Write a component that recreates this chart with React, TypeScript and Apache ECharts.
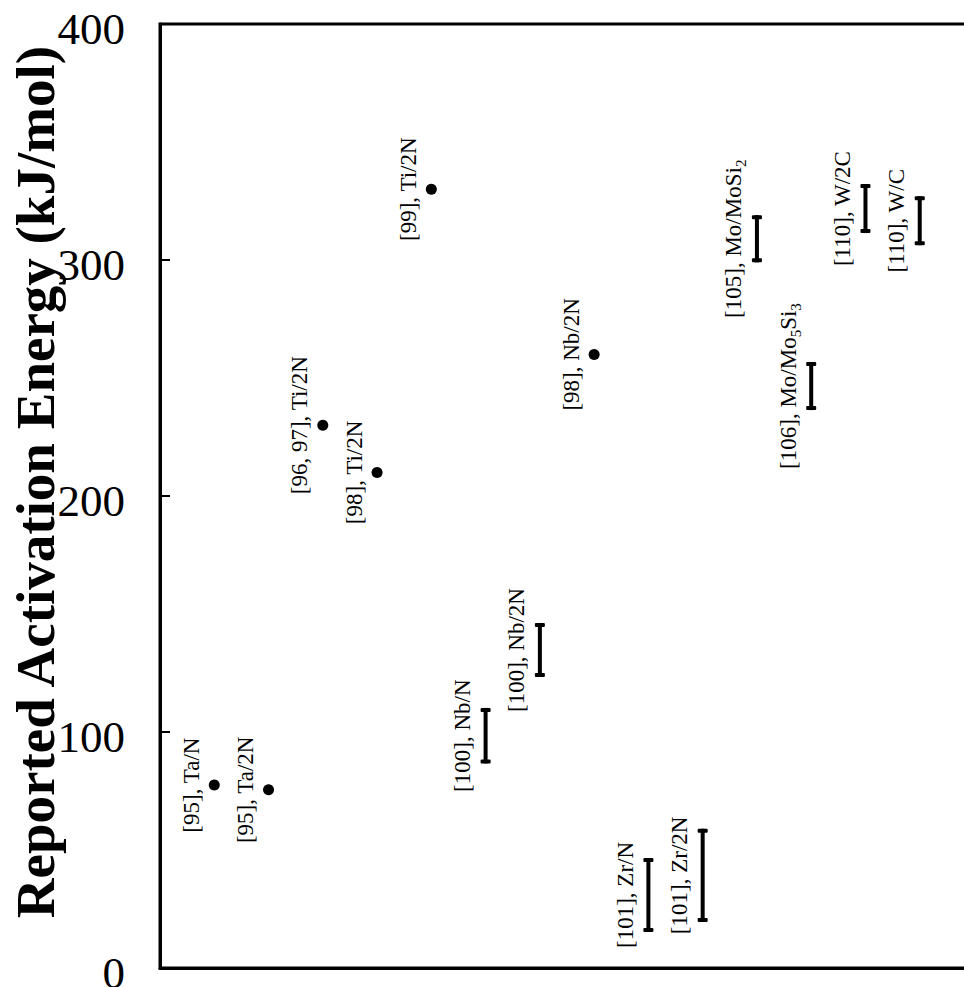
import React, { useEffect, useRef } from "react";
import * as echarts from "echarts";

// Dots (single reported values)
const pointX = [1, 2, 3, 4, 5, 8];
const pointY = [77.5, 75.5, 230, 210, 330, 260];
const pointLabels = [
  "{a|[95], Ta/N}",
  "{a|[95], Ta/2N}",
  "{a|[96, 97], Ti/2N}",
  "{a|[98], Ti/2N}",
  "{a|[99], Ti/2N}",
  "{a|[98], Nb/2N}",
];

// Ranges (reported intervals)
const rangeX = [6, 7, 9, 10, 11, 12, 13, 14];
const rangeLow = [86.7, 123.3, 15.3, 19.5, 299, 236.4, 311.4, 306.3];
const rangeHigh = [110.2, 146.2, 46.6, 59, 319, 256.8, 332.2, 327];
const rangeLabels = [
  "{a|[100], Nb/N}",
  "{a|[100], Nb/2N}",
  "{a|[101], Zr/N}",
  "{a|[101], Zr/2N}",
  "{a|[105], Mo/MoSi}{s|2}",
  "{a|[106], Mo/Mo}{s|5}{a|Si}{s|3}",
  "{a|[110], W/2C}",
  "{a|[110], W/C}",
];

const yTicks = [0, 100, 200, 300, 400];
const yTitle = "Reported Activation Energy (kJ/mol)";

const FONT = "'Liberation Serif', 'Times New Roman', serif";

const richStyles = {
  a: { fontSize: 23, fontFamily: FONT, color: "#000", lineHeight: 30, verticalAlign: "middle" },
  s: { fontSize: 15, fontFamily: FONT, color: "#000", lineHeight: 15, verticalAlign: "bottom" },
};

export default function App() {
  const ref = useRef<HTMLDivElement>(null);

  useEffect(() => {
    if (!ref.current) return;
    const chart = echarts.init(ref.current, null, { renderer: "svg" });

    const labelData = [
      ...pointX.map((x, i) => [x, pointY[i], pointY[i], i, 0]),
      ...rangeX.map((x, i) => [x, rangeLow[i], rangeHigh[i], i, 1]),
    ];

    const option: any = {
      animation: false,
      backgroundColor: "#fff",
      grid: {
        left: 160,
        top: 24,
        bottom: 19,
        right: -10,
        containLabel: false,
        outerBoundsMode: "none",
        show: true,
        borderColor: "#000",
        borderWidth: 3,
        backgroundColor: "transparent",
      },
      xAxis: {
        type: "value",
        min: 0,
        max: 15,
        axisLine: { show: true, lineStyle: { color: "#000", width: 3 } },
        axisTick: { show: false },
        axisLabel: { show: false },
        splitLine: { show: false },
      },
      yAxis: {
        type: "value",
        min: yTicks[0],
        max: yTicks[yTicks.length - 1],
        interval: 100,
        axisLine: { show: true, lineStyle: { color: "#000", width: 3 } },
        axisTick: { show: true, inside: true, length: 10, lineStyle: { color: "#000", width: 2 } },
        axisLabel: {
          margin: 35,
          formatter: (v: number) => `{v|${v}}`,
          rich: {
            v: { color: "#000", fontSize: 45, fontFamily: FONT, padding: [10, 0, 0, 0] },
          },
        },
        splitLine: { show: false },
      },
      graphic: [
        {
          type: "text",
          x: 35,
          y: 482,
          rotation: Math.PI / 2,
          style: {
            text: yTitle,
            fontFamily: FONT,
            fontWeight: "bold",
            fontSize: 55,
            fill: "#000",
            align: "center",
            verticalAlign: "middle",
          },
        },
      ],
      series: [
        {
          type: "scatter",
          data: pointX.map((x, i) => [x, pointY[i]]),
          symbol: "circle",
          symbolSize: 11,
          itemStyle: { color: "#000", opacity: 1 },
          silent: true,
        },
        {
          type: "custom",
          data: rangeX.map((x, i) => [x, rangeLow[i], rangeHigh[i]]),
          renderItem: (params: any, api: any) => {
            const lo = api.coord([api.value(0), api.value(1)]);
            const hi = api.coord([api.value(0), api.value(2)]);
            const cx = lo[0];
            const stemW = 4;
            const capW = 10;
            const capH = 4;
            return {
              type: "group",
              children: [
                {
                  type: "rect",
                  shape: { x: cx - stemW / 2, y: hi[1], width: stemW, height: lo[1] - hi[1] },
                  style: { fill: "#000" },
                },
                {
                  type: "rect",
                  shape: { x: cx - capW / 2, y: hi[1], width: capW, height: capH, r: 1 },
                  style: { fill: "#000" },
                },
                {
                  type: "rect",
                  shape: { x: cx - capW / 2, y: lo[1] - capH, width: capW, height: capH, r: 1 },
                  style: { fill: "#000" },
                },
              ],
            };
          },
          silent: true,
        },
        {
          type: "custom",
          data: labelData,
          renderItem: (params: any, api: any) => {
            const lo = api.coord([api.value(0), api.value(1)]);
            const hi = api.coord([api.value(0), api.value(2)]);
            const idx = api.value(3);
            const kind = api.value(4);
            const text = kind === 0 ? pointLabels[idx] : rangeLabels[idx];
            return {
              type: "text",
              x: lo[0] - 23,
              y: (lo[1] + hi[1]) / 2,
              rotation: Math.PI / 2,
              style: {
                text,
                rich: richStyles,
                align: "center",
                verticalAlign: "middle",
                fill: "#000",
              },
            };
          },
          silent: true,
        },
      ],
    };

    chart.setOption(option);
    return () => chart.dispose();
  }, []);

  return (
    <div
      ref={ref}
      style={{ position: "fixed", left: 0, top: 0, width: 964, height: 987, background: "#fff" }}
    />
  );
}
